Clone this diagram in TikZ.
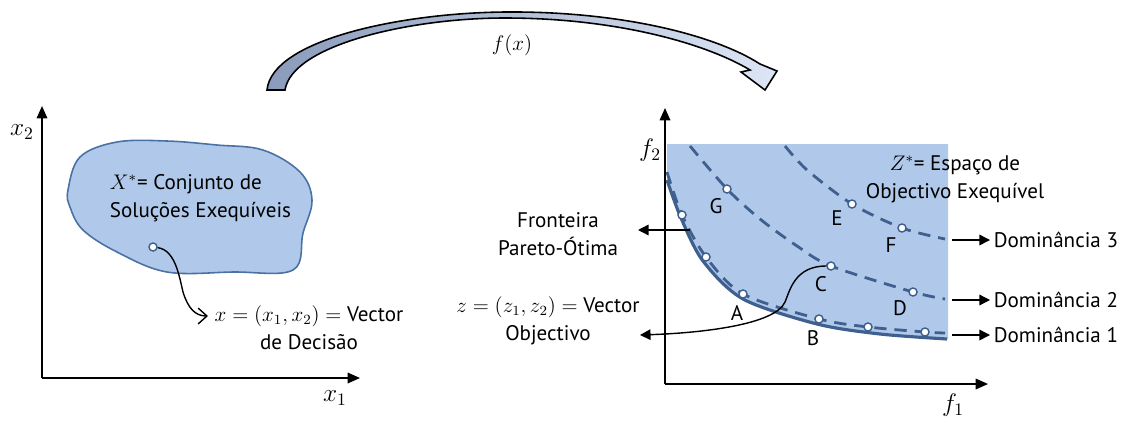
\documentclass[tikz,border=0pt]{standalone}
\usepackage{fontspec}
\setmainfont{PT Sans}
\usetikzlibrary{arrows.meta}

\definecolor{azulclaro}{HTML}{B0C9EA}
\definecolor{azulborda}{HTML}{4A71A3}
\definecolor{azulcurva}{HTML}{3F608E}
\definecolor{setaesq}{HTML}{8A9BBB}
\definecolor{setadir}{HTML}{DDE6F6}

\begin{document}
\begin{tikzpicture}[
        x=0.02cm, y=-0.02cm,
        font=\fontsize{12}{16}\selectfont,
        eixo/.style={-{Triangle[length=7pt,width=6pt]}, line width=0.9pt},
        eixolbl/.style={font=\fontsize{14}{16}\selectfont},
        ponto/.style={circle, draw=azulcurva, fill=white, line width=0.8pt, inner sep=0pt, minimum size=4.6pt},
        rotulo/.style={align=center, inner sep=2pt},
        letra/.style={inner sep=0pt},
        seta/.style={-{Triangle[length=6pt,width=6pt]}, line width=0.8pt},
        dominancia/.style={draw=azulcurva, line width=1.6pt, dash pattern=on 7pt off 4.5pt},
        pareto/.style={draw=azulcurva, line width=1.8pt}
    ]
    \useasboundingbox (0,0) rectangle (1128,420);

        % Espaço de decisão
        \draw[eixo] (42,378) -- (42,106);
        \draw[eixo] (42,378) -- (360,378);
        \node[eixolbl] (lx2) at (22,132) {$x_2$};
        \node[eixolbl] (lx1) at (335,398) {$x_1$};

        \draw[fill=azulclaro, draw=azulborda, line width=0.9pt] plot[smooth cycle, tension=0.6] coordinates {
            (68,190) (80,157) (117,142) (167,141) (217,145) (263,150) (300,172) (312,200)
            (303,233) (293,270) (233,272) (167,272) (117,252) (83,230) (70,207)};

        \node[align=left, anchor=west, inner sep=2pt] (conjunto) at (106,198) {$X^{*}$= Conjunto de\\Soluções Exequíveis};
        \node[ponto] (pX) at (153,247) {};
        \node[rotulo] (xlbl) at (309,328) {$x=(x_1,x_2)=$ Vector\\de Decisão};
        \coordinate (xfim) at (208,316);
        \draw[-{Straight Barb[length=5pt,width=9pt]}, line width=0.8pt] (pX) .. controls (175,250) and (179,275) .. (183,292) .. controls (188,308) and (195,316) .. (xfim);

        % Seta f(x)
        \shadedraw[left color=setaesq, right color=setadir, draw=black, line width=0.9pt]
            (267,90) .. controls (272,40) and (400,13) .. (505,12)
            .. controls (620,11) and (715,35) .. (760,64)
            -- (777,71) -- (765,90) -- (741,72) -- (750,70)
            .. controls (705,43) and (615,18) .. (505,18)
            .. controls (410,18) and (292,45) .. (285,90) -- cycle;
        \node (fx) at (512,45) {$f(x)$};

        % Espaço dos objectivos
        \fill[azulclaro] (667,144) -- (948,144) -- (948,339) -- plot[smooth] coordinates {
            (947,339) (880,334) (817,324) (743,299) (703,261) (681,218) (667,180)} -- cycle;
        \draw[eixo] (665,384) -- (665,108);
        \draw[eixo] (665,384) -- (988,384);
        \node[eixolbl] (lf2) at (650,150) {$f_2$};
        \node[eixolbl] (lf1) at (953,405) {$f_1$};

        \draw[pareto] plot[smooth] coordinates {
            (667,180) (681,218) (703,261) (743,299) (817,324) (880,334) (947,339)};
        \draw[dominancia] plot[smooth] coordinates {
            (667,172) (682,215) (706,257) (743,294) (819,319) (868,327) (925,332) (945,333)};
        \draw[dominancia] plot[smooth] coordinates {
            (690,146) (727,189) (760,219) (797,246) (831,266) (913,292) (945,299)};
        \draw[dominancia] plot[smooth] coordinates {
            (785,146) (807,170) (852,204) (902,228) (945,239)};

        % Pontos
        \node[ponto] (p1) at (682,215) {};
        \node[ponto] (p2) at (706,257) {};
        \node[ponto] (pA) at (743,294) {};
        \node[ponto] (pB) at (819,319) {};
        \node[ponto] (p5) at (868,327) {};
        \node[ponto] (p6) at (925,332) {};
        \node[ponto] (pG) at (727,189) {};
        \node[ponto] (pC) at (831,266) {};
        \node[ponto] (pD) at (913,292) {};
        \node[ponto] (pE) at (852,204) {};
        \node[ponto] (pF) at (902,228) {};

        \node[letra] (lA) at (737,313) {A};
        \node[letra] (lB) at (813,338) {B};
        \node[letra] (lC) at (821,284) {C};
        \node[letra] (lD) at (900,308) {D};
        \node[letra] (lE) at (837,218) {E};
        \node[letra] (lF) at (891,245) {F};
        \node[letra] (lG) at (716,206) {G};

        \node[rotulo] (zespaco) at (955,179) {$Z^{*}$= Espaço de\\Objectivo Exequível};

        % Ligações
        \node[rotulo] (fronteira) at (558,234) {Fronteira\\Pareto-Ótima};
        \coordinate (fcurva) at (690,230);
        \coordinate (ffim) at (638,230);
        \draw[seta] (fcurva) -- (ffim);

        \node[rotulo] (zlbl) at (548,321) {$z=(z_1,z_2)=$ Vector\\Objectivo};
        \coordinate (zfim) at (640,335);
        \draw[seta] (pC) .. controls (795,266) and (790,290) .. (785,302) .. controls (775,325) and (700,333) .. (zfim);

        \foreach \n/\y in {1/335, 2/300, 3/240} {
            \node[anchor=west, inner sep=2pt] (dom\n) at (990,\y) {Dominância \n};
            \coordinate (d\n) at (952,\y);
            \draw[seta] (d\n) -- (dom\n.west);
        }

    \end{tikzpicture}
\end{document}
